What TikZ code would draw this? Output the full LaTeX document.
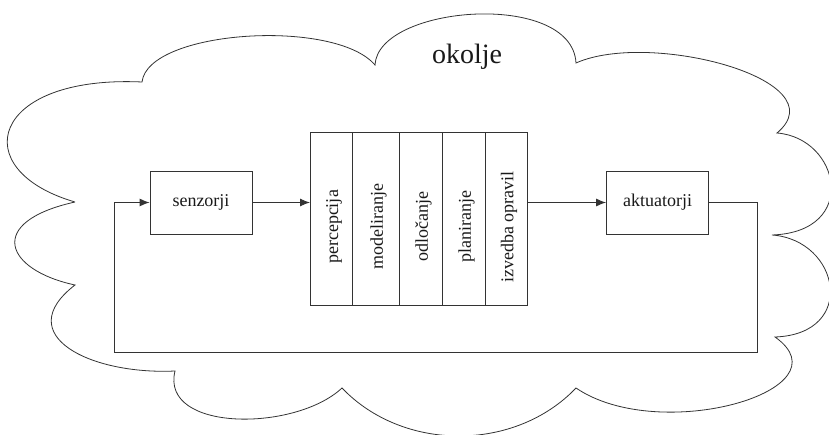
\documentclass[tikz,border=0pt]{standalone}
\usepackage{fontspec}
\setmainfont{Liberation Serif}
\usetikzlibrary{arrows.meta}
\begin{document}
\begin{tikzpicture}[x=1pt,y=-1pt,
  line/.style={draw=black!80, line width=0.9pt},
  arr/.style={line, -{Latex[length=10pt,width=8pt]}},
  box/.style={line, minimum width=102pt, minimum height=63pt, inner sep=0pt,
    text=black!90, font=\fontsize{18}{20}\selectfont},
  col/.style={line, minimum height=173pt, inner sep=0pt, anchor=west},
  vlab/.style={rotate=90, inner sep=0pt, text=black!90, font=\fontsize{18}{20}\selectfont},
  cloudline/.style={draw=black!80, line width=0.8pt}
]
\useasboundingbox (0,0) rectangle (829,435);

% cloud (environment)
\draw[cloudline]
  (75,202) .. controls (-35,170) and (-10,75) .. (142,82)
  .. controls (148,30) and (335,18) .. (375,65)
  .. controls (378,5) and (572,-10) .. (576,63)
  .. controls (650,30) and (840,80) .. (777,133)
  .. controls (840,138) and (860,232) .. (772,235)
  .. controls (840,240) and (858,334) .. (775,337)
  .. controls (850,390) and (660,445) .. (576,388)
  .. controls (515,452) and (403,452) .. (342,388)
  .. controls (295,432) and (160,432) .. (175,371)
  .. controls (90,375) and (10,335) .. (75,285)
  .. controls (5,270) and (-15,222) .. (75,202);

\node[text=black!90, font=\fontsize{28}{30}\selectfont] (env) at (467,56.5) {okolje};

% boxes
\node[box] (sens) at (201,202.5) {senzorji};
\node[box] (act) at (657.5,202.5) {aktuatorji};

% central block columns
\node[col, minimum width=42pt] (c1) at (310,218.5) {};
\node[col, minimum width=47pt] (c2) at (352,218.5) {};
\node[col, minimum width=43pt] (c3) at (399,218.5) {};
\node[col, minimum width=43pt] (c4) at (442,218.5) {};
\node[col, minimum width=42pt] (c5) at (485,218.5) {};

\node[vlab] (l1) at (334,227) {percepcija};
\node[vlab] (l2) at (378.5,227) {modeliranje};
\node[vlab] (l3) at (423.5,227) {odločanje};
\node[vlab] (l4) at (466.5,227) {planiranje};
\node[vlab] (l5) at (509,227) {izvedba opravil};

% connectors
\draw[arr] (sens.east) -- (sens.east -| c1.west);
\draw[arr] (c5.east |- act.west) -- (act.west);
\coordinate (fbR) at (757,352);
\coordinate (fbL) at (114,352);
\draw[arr] (act.east) -| (fbR) -- (fbL) |- (sens.west);
\end{tikzpicture}
\end{document}
